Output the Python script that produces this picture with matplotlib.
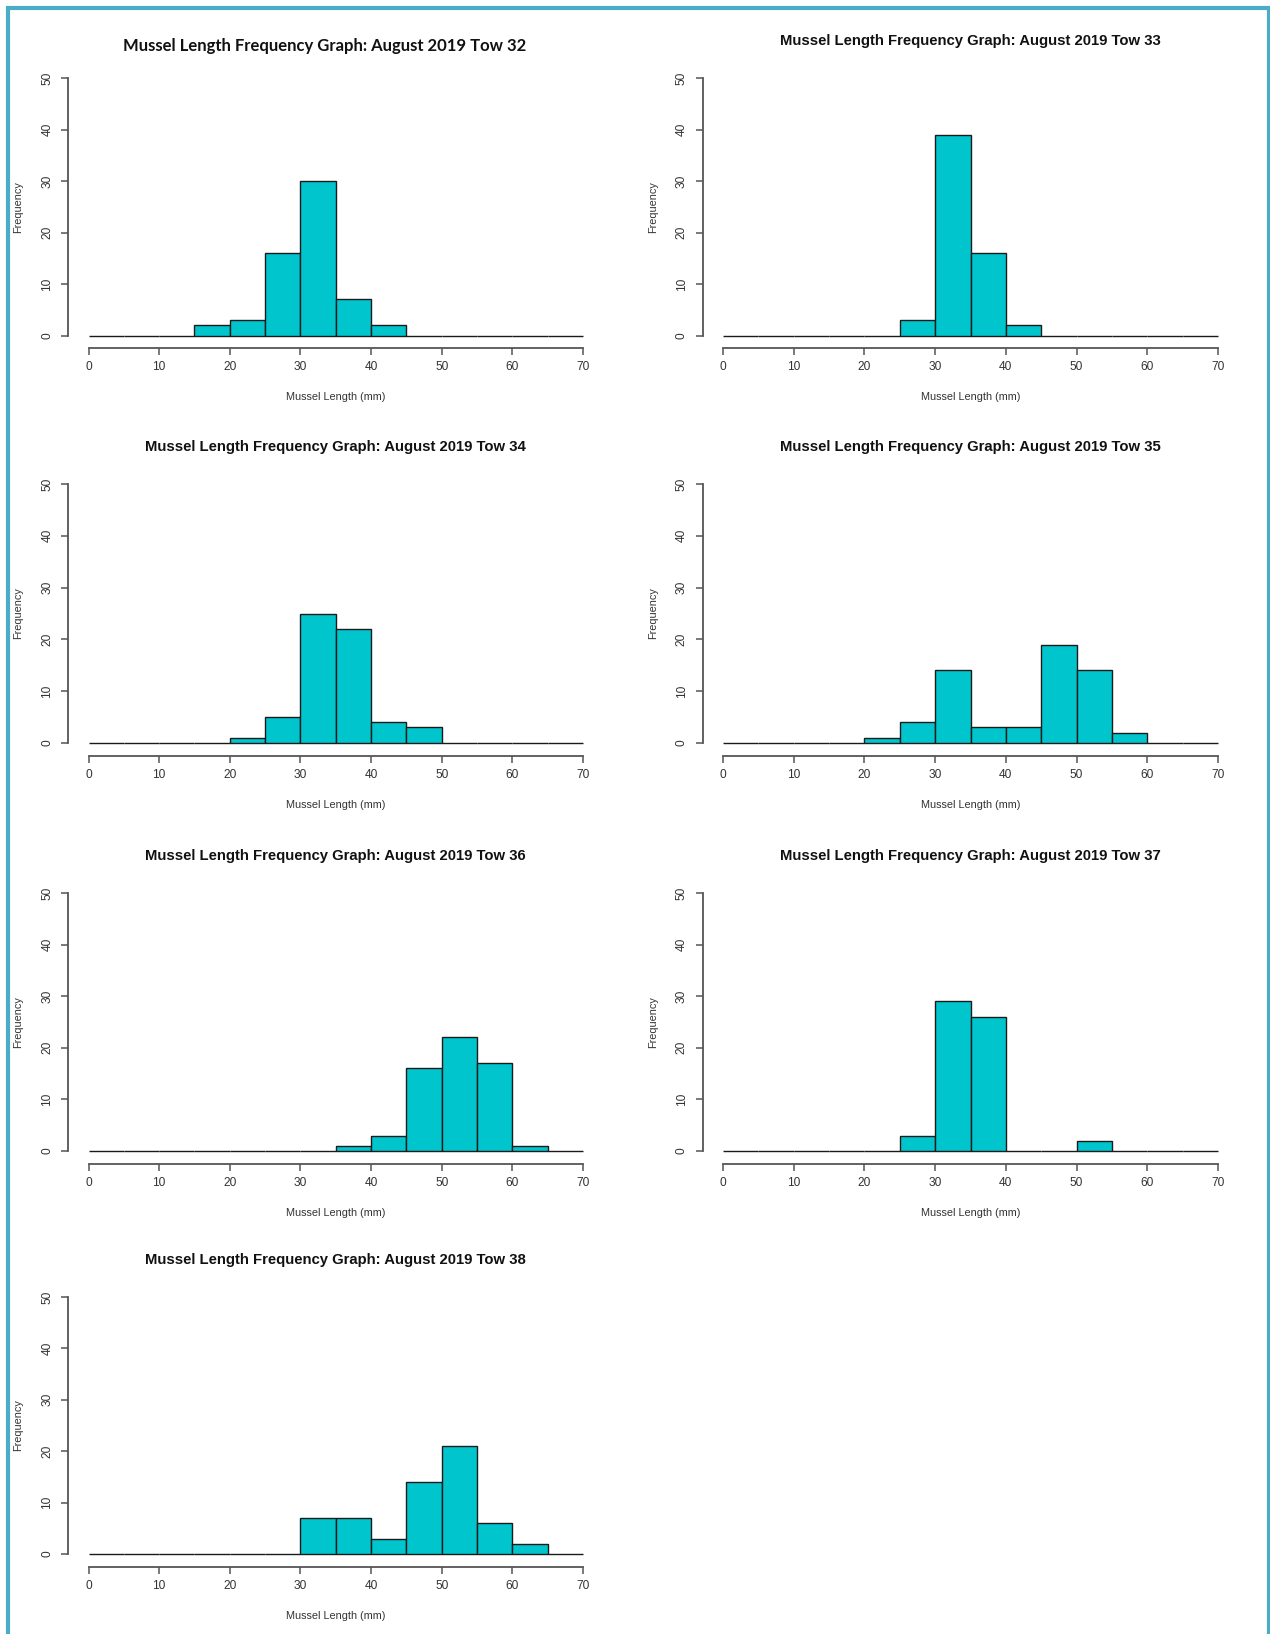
import matplotlib
matplotlib.use("Agg")
import matplotlib.pyplot as plt
import numpy as np
from matplotlib.patches import Rectangle

# 5 mm length classes from 0 to 70 mm
bin_edges = np.arange(0, 75, 5)
x_ticks = [0, 10, 20, 30, 40, 50, 60, 70]
y_ticks = [0, 10, 20, 30, 40, 50]

# counts per length class, one list per tow
tow_32 = [0, 0, 0, 2, 3, 16, 30, 7, 2, 0, 0, 0, 0, 0]
tow_33 = [0, 0, 0, 0, 0, 3, 39, 16, 2, 0, 0, 0, 0, 0]
tow_34 = [0, 0, 0, 0, 1, 5, 25, 22, 4, 3, 0, 0, 0, 0]
tow_35 = [0, 0, 0, 0, 1, 4, 14, 3, 3, 19, 14, 2, 0, 0]
tow_36 = [0, 0, 0, 0, 0, 0, 0, 1, 3, 16, 22, 17, 1, 0]
tow_37 = [0, 0, 0, 0, 0, 3, 29, 26, 0, 0, 2, 0, 0, 0]
tow_38 = [0, 0, 0, 0, 0, 0, 7, 7, 3, 14, 21, 6, 2, 0]

tows = [32, 33, 34, 35, 36, 37, 38]
counts = [tow_32, tow_33, tow_34, tow_35, tow_36, tow_37, tow_38]

W, H = 1270, 1634
BAR_COLOR = "#00C5CD"
AXIS_COLOR = "#555555"
TEXT_COLOR = "#333333"

# pixel layout of the 2-column grid
col_x0 = [88.5, 723.0]      # pixel x of length 0
col_x70 = [583.0, 1218.0]   # pixel x of length 70
row_y50 = [78.0, 484.0, 893.0, 1297.0]
row_y0 = [335.5, 743.0, 1151.0, 1554.0]


def px_rect(x0, x1, ytop, ybot):
    return [x0 / W, 1 - ybot / H, (x1 - x0) / W, (ybot - ytop) / H]


def draw_panel(fig, ax, tow, values, col, row):
    ax.bar(bin_edges[:-1], values, width=5, align="edge", color=BAR_COLOR,
           edgecolor="#1a1a1a", linewidth=1.0, clip_on=False)
    ax.set_xlim(0, 70)
    ax.set_ylim(0, 50)

    for side in ("top", "right"):
        ax.spines[side].set_visible(False)
    ax.spines["left"].set_position(("outward", 20.5 * 0.72))
    ax.spines["bottom"].set_position(("outward", 12.5 * 0.72))
    ax.spines["left"].set_bounds(0, 50)
    ax.spines["bottom"].set_bounds(0, 70)
    for side in ("left", "bottom"):
        ax.spines[side].set_color(AXIS_COLOR)
        ax.spines[side].set_linewidth(1.3)

    ax.set_xticks(x_ticks)
    ax.set_yticks(y_ticks)
    ax.tick_params(axis="both", length=5, width=1.1, color=AXIS_COLOR,
                   labelsize=8.6, labelcolor=TEXT_COLOR, pad=4.5)
    ax.tick_params(axis="y", labelrotation=90, pad=5.5)
    for lbl in ax.get_yticklabels():
        lbl.set_va("center")

    h = row_y0[row] - row_y50[row]
    ax.set_xlabel("Mussel Length (mm)", fontsize=7.8, color=TEXT_COLOR)
    ax.xaxis.set_label_coords(0.5, -62 / h)
    ax.xaxis.label.set_va("center")
    ax.set_ylabel("Frequency", fontsize=7.8, color=TEXT_COLOR)
    w = col_x70[col] - col_x0[col]
    ax.yaxis.set_label_coords(-70 / w, 0.5)
    ax.yaxis.label.set_ha("center")
    ax.yaxis.label.set_va("center")

    title = f"Mussel Length Frequency Graph: August 2019 Tow {tow}"
    cx = (col_x0[col] + col_x70[col]) / 2
    if tow == 32:
        fig.text(325 / W, 1 - 46 / H, title, ha="center", va="center",
                 fontsize=11.95, fontweight="bold", family="Lato", color="#111111")
    else:
        fig.text(cx / W, 1 - (row_y50[row] - 37) / H, title, ha="center",
                 va="center", fontsize=10.7, fontweight="bold",
                 family="Liberation Sans", color="#111111")


def main():
    plt.rcParams["font.family"] = ["Liberation Sans", "DejaVu Sans"]
    fig = plt.figure(figsize=(W / 100, H / 100), dpi=100)
    fig.patch.set_facecolor("white")

    for i, (tow, values) in enumerate(zip(tows, counts)):
        row, col = divmod(i, 2)
        ax = fig.add_axes(px_rect(col_x0[col], col_x70[col], row_y50[row], row_y0[row]))
        ax.patch.set_alpha(0)
        draw_panel(fig, ax, tow, values, col, row)

    # frame around the page (open at the bottom)
    frame = Rectangle((8 / W, -0.02), (1268.5 - 8) / W, 1.02 - 8 / H,
                      transform=fig.transFigure, fill=False,
                      edgecolor="#4BACC6", linewidth=3.0)
    fig.add_artist(frame)

    fig.savefig("out.png", dpi=100)
    plt.close(fig)


if __name__ == "__main__":
    main()
